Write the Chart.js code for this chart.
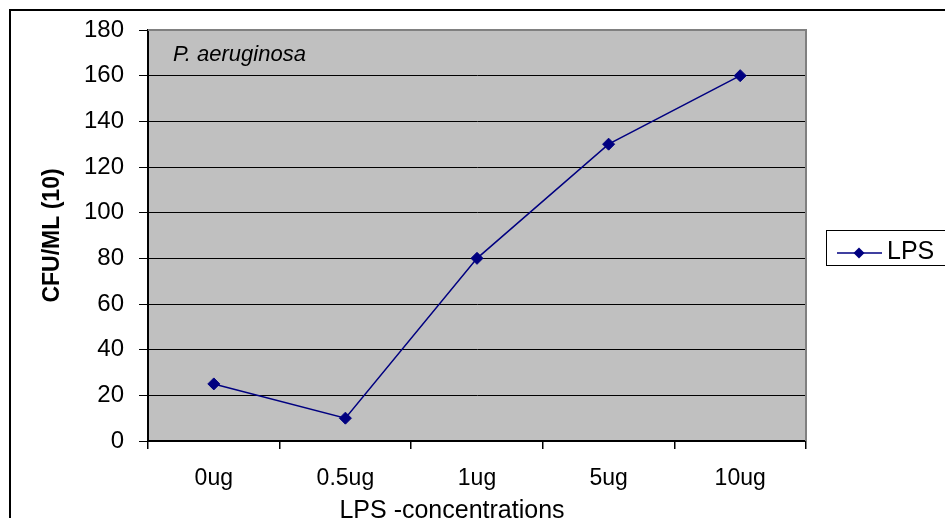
<!DOCTYPE html>
<html>
<head>
<meta charset="utf-8">
<script src="https://cdn.jsdelivr.net/npm/chart.js@4/dist/chart.umd.min.js"></script>
<style>
  html, body { margin: 0; padding: 0; background: #ffffff; }
  #wrap { width: 945px; height: 518px; position: relative; }
</style>
</head>
<body>
<div id="wrap"><canvas id="chart" width="945" height="518"></canvas></div>
<script>
// LPS dose vs. colony counts
const categories = ['0ug', '0.5ug', '1ug', '5ug', '10ug'];
const cfuValues = [25, 10, 80, 130, 160];
const seriesName = 'LPS';
const yMin = 0, yMax = 180, yStep = 20;
const yAxisTitle = 'CFU/ML (10)';
const xAxisTitle = 'LPS -concentrations';
const organismLabel = 'P. aeruginosa';

const FONT = 'Arial, "Liberation Sans", Helvetica, sans-serif';
const NAVY = '#000080';

// Plot background, frame, axis caption, species note and legend box
const framePlugin = {
  id: 'framePlugin',
  beforeDraw(chart) {
    const { ctx, chartArea: a } = chart;
    ctx.save();
    ctx.fillStyle = '#ffffff';
    ctx.fillRect(0, 0, chart.width, chart.height);
    ctx.fillStyle = '#C0C0C0';
    ctx.fillRect(a.left, a.top, a.right - a.left, a.bottom - a.top);
    ctx.restore();
  },
  afterDraw(chart) {
    const { ctx, chartArea: a } = chart;
    ctx.save();
    // grey top/right edge of plot area
    ctx.strokeStyle = '#808080';
    ctx.lineWidth = 2;
    ctx.beginPath();
    ctx.moveTo(a.left, a.top);
    ctx.lineTo(a.right, a.top);
    ctx.lineTo(a.right, a.bottom);
    ctx.stroke();

    // outer chart border
    ctx.strokeStyle = '#000000';
    ctx.lineWidth = 2;
    ctx.strokeRect(10, 10, chart.width + 20, chart.height + 20);

    // species note
    ctx.fillStyle = '#000000';
    ctx.font = 'italic 22px ' + FONT;
    ctx.textAlign = 'left';
    ctx.textBaseline = 'middle';
    ctx.fillText(organismLabel, 173, 55);

    // x axis caption
    ctx.font = '25px ' + FONT;
    ctx.textAlign = 'center';
    ctx.fillText(xAxisTitle, 452, 511);

    // legend
    const ds = chart.data.datasets[0];
    ctx.lineWidth = 1;
    ctx.strokeStyle = '#000000';
    ctx.strokeRect(826.5, 230.5, 140, 35);
    ctx.strokeStyle = ds.borderColor;
    ctx.lineWidth = 1.5;
    ctx.beginPath();
    ctx.moveTo(837, 253);
    ctx.lineTo(882, 253);
    ctx.stroke();
    ctx.fillStyle = ds.pointBackgroundColor;
    const cx = 859, cy = 253, r = 5.5;
    ctx.beginPath();
    ctx.moveTo(cx, cy - r);
    ctx.lineTo(cx + r, cy);
    ctx.lineTo(cx, cy + r);
    ctx.lineTo(cx - r, cy);
    ctx.closePath();
    ctx.fill();
    ctx.fillStyle = '#000000';
    ctx.font = '25px ' + FONT;
    ctx.textAlign = 'left';
    ctx.textBaseline = 'middle';
    ctx.fillText(ds.label, 887, 252);
    ctx.restore();
  }
};

new Chart(document.getElementById('chart'), {
  type: 'line',
  data: {
    labels: categories,
    datasets: [{
      label: seriesName,
      data: cfuValues,
      borderColor: NAVY,
      backgroundColor: NAVY,
      pointBackgroundColor: NAVY,
      pointBorderColor: NAVY,
      borderWidth: 1.5,
      pointStyle: 'rectRot',
      pointRadius: 6,
      pointBorderWidth: 1,
      tension: 0,
      fill: false
    }]
  },
  options: {
    responsive: false,
    animation: false,
    devicePixelRatio: 1,
    layout: { padding: { top: 30, right: 139, bottom: 0, left: 0 } },
    plugins: {
      legend: { display: false },
      tooltip: { enabled: false },
      title: { display: false }
    },
    scales: {
      x: {
        type: 'category',
        offset: true,
        grid: {
          offset: true,
          drawOnChartArea: false,
          drawTicks: true,
          tickLength: 8,
          color: '#000000',
          lineWidth: 1.5
        },
        border: { display: true, color: '#000000', width: 2 },
        ticks: {
          color: '#000000',
          font: { family: FONT, size: 23 },
          padding: 16,
          maxRotation: 0,
          autoSkip: false
        },
        afterFit(scale) { scale.height = 77; }
      },
      y: {
        min: yMin,
        max: yMax,
        grid: {
          drawOnChartArea: true,
          drawTicks: true,
          tickLength: 9,
          color: '#000000',
          lineWidth: 1
        },
        border: { display: true, color: '#000000', width: 2 },
        ticks: {
          stepSize: yStep,
          color: '#000000',
          font: { family: FONT, size: 24 },
          padding: 15
        },
        title: {
          display: true,
          text: yAxisTitle,
          color: '#000000',
          font: { family: FONT, size: 23, weight: 'bold' },
          padding: { top: 39, bottom: 0 }
        },
        afterFit(scale) { scale.width = 148; }
      }
    }
  },
  plugins: [framePlugin]
});
</script>
</body>
</html>
